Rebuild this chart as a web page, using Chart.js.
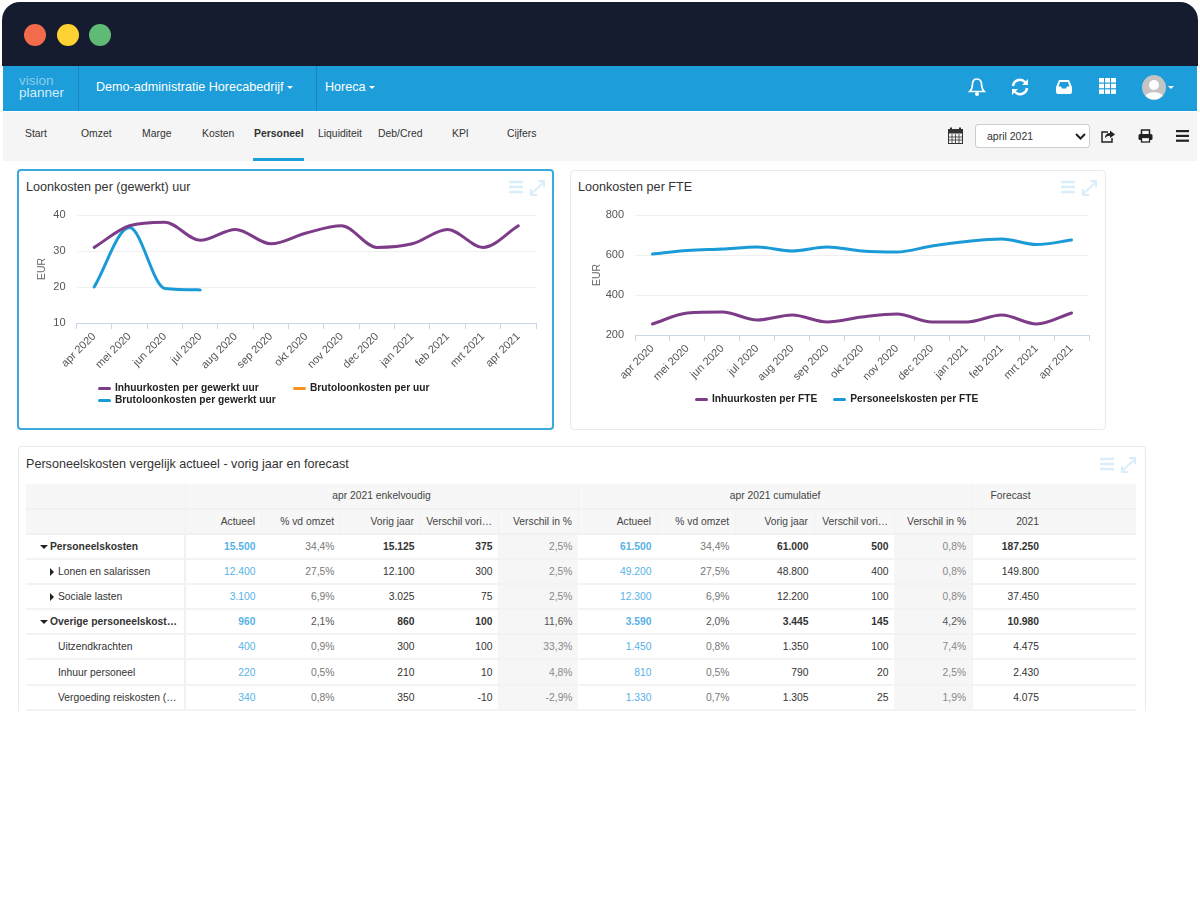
<!DOCTYPE html>
<html>
<head>
<meta charset="utf-8">
<title>Personeel</title>
<script src="https://cdn.jsdelivr.net/npm/chart.js@4"></script>
<style>
    * { box-sizing: border-box; }
    html, body { margin: 0; padding: 0; background: #fff; }
    body { width: 1200px; height: 900px; position: relative; overflow: hidden; font-family: "Liberation Sans", Arial, sans-serif; color: #333; }
    .abs { position: absolute; }
    #titlebar { left: 2px; top: 2px; width: 1196px; height: 64px; background: #161c2f; border-radius: 18px 18px 0 0; }
    .dot { position: absolute; width: 22px; height: 22px; top: 24px; border-radius: 50%; }
    #topbar { left: 3px; top: 66px; width: 1194px; height: 45px; background: #1d9dd9; }
    .divider { position: absolute; top: 66px; width: 1px; height: 45px; background: #1a85ba; }
    #subnav { left: 3px; top: 112px; width: 1194px; height: 49px; background: #f5f5f5; }
    .toptext { position: absolute; top: 79px; color: #fff; font-size: 12.6px; line-height: 16px; white-space: nowrap; }
    .caret { position: absolute; width: 0; height: 0; border-left: 3.5px solid transparent; border-right: 3.5px solid transparent; border-top: 3.5px solid #fff; }
    .nav { position: absolute; top: 127px; font-size: 10.4px; line-height: 13px; color: #333; white-space: nowrap; }
    .card { position: absolute; background: #fff; border: 1px solid #eaeaea; border-radius: 4px; }
    .cardtitle { position: absolute; font-size: 12.6px; line-height: 16px; color: #333; white-space: nowrap; }
    canvas { position: absolute; }
    .legend { position: absolute; font-size: 10.2px; font-weight: bold; color: #222; line-height: 12px; white-space: nowrap; }
    .legend .item { display: flex; align-items: center; }
    .legend .swatch { display: inline-block; width: 13px; height: 3px; border-radius: 2px; margin-right: 4px; }
    #select { left: 975px; top: 124px; width: 115px; height: 24px; background: #fff; border: 1px solid #ccc; border-radius: 3px; font-size: 10.5px; line-height: 22px; padding-left: 11px; color: #333; }
    table { position: absolute; left: 26px; top: 483.5px; width: 1110px; border-collapse: collapse; table-layout: fixed; font-size: 10.3px; }
    th { font-weight: normal; background: #f7f7f7; color: #444; height: 25px; padding: 0 5.5px; border-bottom: 2px solid #f1f1f1; border-left: 1px solid #f1f1f1; text-align: right; white-space: nowrap; overflow: hidden; }
    th:first-child { border-left: none; }
    th.center { text-align: center; }
    td { height: 25.2px; padding: 0 5.5px; text-align: right; border-bottom: 2px solid #f3f3f3; white-space: nowrap; overflow: hidden; color: #333; }
    td.label { text-align: left; border-right: 2px solid #f1f1f1; position: relative; }
    td.act { color: #58b2e8; }
    td.pct { color: #777; }
    td.diff { color: #888; background: #f6f6f6; }
    td.fc { padding-right: 97px; border-left: 1px solid #f3f3f3; }
    tr.bold td { font-weight: bold; }
    tr.bold td.pct, tr.bold td.diff { font-weight: normal; }
    tr.dark td.pct, tr.dark td.diff { color: #555; }
    .tri-down { position: absolute; left: 14px; top: 10px; border-left: 4px solid transparent; border-right: 4px solid transparent; border-top: 4.5px solid #222; }
    .tri-right { position: absolute; left: 23.5px; top: 8px; border-top: 4px solid transparent; border-bottom: 4px solid transparent; border-left: 4.5px solid #222; }
    svg { position: absolute; overflow: visible; }
</style>
</head>
<body>
<div class="abs" id="titlebar"></div>
<div class="dot" style="left:24px;background:#f26b4a"></div>
<div class="dot" style="left:57px;background:#ffd233"></div>
<div class="dot" style="left:89px;background:#5fba75"></div>

<div class="abs" id="topbar"></div>
<div class="divider" style="left:78px"></div>
<div class="divider" style="left:316px"></div>
<div class="abs" style="left:19px;top:75px;font-size:13.5px;line-height:12px;color:#8ccbec;font-weight:300">vision</div>
<div class="abs" style="left:19px;top:87px;font-size:13.5px;line-height:12px;color:#d5edf9">planner</div>
<div class="toptext" style="left:96px">Demo-administratie Horecabedrijf</div>
<div class="caret" style="left:287px;top:86px"></div>
<div class="toptext" style="left:325px">Horeca</div>
<div class="caret" style="left:369px;top:86px"></div>

<!-- top bar icons -->
<svg style="left:968px;top:77px" width="18" height="20" viewBox="0 0 18 20"><path d="M9 2c-3 0-4.500 2.400-4.500 5 0 4-1.200 6-2.800 7.500h14.600C14.700 13 13.500 11 13.500 7c0-2.600-1.500-5-4.500-5z" fill="none" stroke="#fff" stroke-width="1.700"/><circle cx="9" cy="17" r="2" fill="#fff"/></svg>
<svg style="left:1010px;top:77px" width="20" height="20" viewBox="0 0 20 20"><path d="M3 9a7 7 0 0 1 12-4l2 2M17 11a7 7 0 0 1-12 4l-2-2" fill="none" stroke="#fff" stroke-width="2.500"/><path d="M18 2v6h-6zM2 18v-6h6z" fill="#fff"/></svg>
<svg style="left:1056px;top:79px" width="16" height="15" viewBox="0 0 16 15"><path d="M3 1h10l3 7v5a2 2 0 0 1-2 2H2a2 2 0 0 1-2-2V8z" fill="#fff"/><path d="M4 3h8l1.500 4.500H11L10 9.500H6L5 7.500H2.500z" fill="#1d9dd9"/></svg>
<svg style="left:1099px;top:78px" width="17" height="16" viewBox="0 0 17 16" fill="#fff"><rect x="0" y="0" width="5" height="4.500"/><rect x="6" y="0" width="5" height="4.500"/><rect x="12" y="0" width="5" height="4.500"/><rect x="0" y="5.700" width="5" height="4.500"/><rect x="6" y="5.700" width="5" height="4.500"/><rect x="12" y="5.700" width="5" height="4.500"/><rect x="0" y="11.400" width="5" height="4.500"/><rect x="6" y="11.400" width="5" height="4.500"/><rect x="12" y="11.400" width="5" height="4.500"/></svg>
<svg style="left:1142px;top:75px" width="24" height="25" viewBox="0 0 24 25"><ellipse cx="12" cy="12.500" rx="12" ry="12.500" fill="#c4c4c4"/><circle cx="12" cy="10" r="5" fill="#fff"/><path d="M3.500 21c2-5 15-5 17 0a12 12 0 0 1-17 0z" fill="#fff"/></svg>
<div class="caret" style="left:1168px;top:86px;border-left-width:3px;border-right-width:3px;border-top-width:3px"></div>

<div class="abs" id="subnav"></div>
<div id="navbar"></div>
<div class="abs" style="left:253px;top:158px;width:51px;height:3px;background:#1d9dd9"></div>

<!-- toolbar icons -->
<svg style="left:948px;top:127px" width="15" height="17" viewBox="0 0 15 17"><rect x="0.500" y="2.500" width="14" height="14" fill="none" stroke="#333"/><rect x="0.500" y="2.500" width="14" height="4" fill="#333"/><path d="M3 0.500v3M12 0.500v3" stroke="#333" stroke-width="2"/><path d="M4 7v9M7.500 7v9M11 7v9M1 10h13M1 13h13" stroke="#333" stroke-width="0.800"/></svg>
<div class="abs" id="select">april 2021</div>
<svg style="left:1075px;top:133px" width="11" height="7" viewBox="0 0 11 7"><path d="M1 1l4.500 4.500L10 1" fill="none" stroke="#222" stroke-width="2"/></svg>
<svg style="left:1101px;top:129px" width="14" height="14" viewBox="0 0 14 14"><path d="M7 3H1v10h10V9" fill="none" stroke="#222" stroke-width="1.500"/><path d="M4 9c0-3 2-5 5-5V1.500L14 5.500 9 9V6.800C7 6.800 5.500 7.500 4 9z" fill="#222"/></svg>
<svg style="left:1138px;top:129px" width="15" height="14" viewBox="0 0 15 14"><path d="M3.500 5V1h8v4" fill="none" stroke="#222" stroke-width="1.500"/><rect x="0.500" y="5" width="14" height="6" rx="1.500" fill="#222"/><rect x="3.500" y="8.500" width="8" height="4.500" fill="#fff" stroke="#222" stroke-width="1.300"/></svg>
<svg style="left:1176px;top:130px" width="13" height="12" viewBox="0 0 13 12" fill="#222"><rect width="13" height="2.200"/><rect y="4.800" width="13" height="2.200"/><rect y="9.600" width="13" height="2.200"/></svg>

<!-- chart cards -->
<div class="card" style="left:17px;top:169px;width:537px;height:261px;border:2px solid #3aa9e0"></div>
<div class="card" style="left:570px;top:170px;width:536px;height:260px"></div>
<div class="cardtitle" style="left:26px;top:179px">Loonkosten per (gewerkt) uur</div>
<div class="cardtitle" style="left:578px;top:179px">Loonkosten per FTE</div>

<canvas id="chartUur" style="left:30px;top:175px;width:515px;height:210px"></canvas>
<canvas id="chartFte" style="left:585px;top:175px;width:512px;height:222px"></canvas>
<div class="legend" id="legendUur" style="left:98px;top:382px;display:grid;grid-template-columns:195px auto"></div>
<div class="legend" id="legendFte" style="left:695px;top:393px;display:flex;gap:16px"></div>

<!-- table card -->
<div class="abs" style="left:18px;top:446px;width:1128px;height:265px;border:1px solid #eaeaea;border-bottom:none;border-radius:4px 4px 0 0;background:#fff"></div>
<div class="cardtitle" style="left:26px;top:456px">Personeelskosten vergelijk actueel - vorig jaar en forecast</div>
<table id="table"></table>

<div id="cardIcons"></div>

<script>
// Chart data
const months = ['apr 2020', 'mei 2020', 'jun 2020', 'jul 2020', 'aug 2020', 'sep 2020', 'okt 2020', 'nov 2020', 'dec 2020', 'jan 2021', 'feb 2021', 'mrt 2021', 'apr 2021'];
const inhuurPerUur = [31, 37, 38, 33, 36, 32, 35, 37, 31, 32, 36, 31, 37];
const brutoPerGewerktUur = [20, 36.5, 19.6, 19.2, null, null, null, null, null, null, null, null, null];
const brutoPerUur = [];
const inhuurPerFte = [255, 310, 315, 275, 300, 265, 290, 305, 265, 265, 300, 255, 310];
const personeelPerFte = [605, 622, 630, 640, 620, 640, 620, 615, 645, 668, 680, 652, 675];
const uurTicks = [10, 20, 30, 40];
const fteTicks = [200, 400, 600, 800];

// Table data
const rowLabels = ['Personeelskosten', 'Lonen en salarissen', 'Sociale lasten', 'Overige personeelskost…', 'Uitzendkrachten', 'Inhuur personeel', 'Vergoeding reiskosten (…'];
const enkActueel = ['15.500', '12.400', '3.100', '960', '400', '220', '340'];
const enkOmzet = ['34,4%', '27,5%', '6,9%', '2,1%', '0,9%', '0,5%', '0,8%'];
const enkVorig = ['15.125', '12.100', '3.025', '860', '300', '210', '350'];
const enkVerschil = ['375', '300', '75', '100', '100', '10', '-10'];
const enkPct = ['2,5%', '2,5%', '2,5%', '11,6%', '33,3%', '4,8%', '-2,9%'];
const cumActueel = ['61.500', '49.200', '12.300', '3.590', '1.450', '810', '1.330'];
const cumOmzet = ['34,4%', '27,5%', '6,9%', '2,0%', '0,8%', '0,5%', '0,7%'];
const cumVorig = ['61.000', '48.800', '12.200', '3.445', '1.350', '790', '1.305'];
const cumVerschil = ['500', '400', '100', '145', '100', '20', '25'];
const cumPct = ['0,8%', '0,8%', '0,8%', '4,2%', '7,4%', '2,5%', '1,9%'];
const forecast2021 = ['187.250', '149.800', '37.450', '10.980', '4.475', '2.430', '4.075'];
const subHeaders = ['Actueel', '% vd omzet', 'Vorig jaar', 'Verschil vori…', 'Verschil in %'];

const navItems = [['Start', 25], ['Omzet', 81], ['Marge', 142], ['Kosten', 202], ['Personeel', 254], ['Liquiditeit', 318], ['Deb/Cred', 378], ['KPI', 452], ['Cijfers', 507]];

const PURPLE = '#7d3c87';
const BLUE = '#1a9bd8';
const ORANGE = '#f7931e';

function makeChart(id, datasets, ticks, width, height, plot) {
    const canvas = document.getElementById(id);
    canvas.width = width;
    canvas.height = height;
    return new Chart(canvas, {
        type: 'line',
        data: {
            labels: months,
            datasets: datasets.map(d => ({
                label: d.label,
                data: d.data,
                borderColor: d.color,
                backgroundColor: d.color,
                borderWidth: 3,
                pointRadius: 0,
                cubicInterpolationMode: 'monotone',
                borderCapStyle: 'round',
                spanGaps: false
            }))
        },
        options: {
            responsive: false,
            animation: false,
            devicePixelRatio: 1,
            layout: { padding: { left: 0, top: plot.top, right: plot.right, bottom: 0 } },
            plugins: { legend: { display: false }, tooltip: { enabled: false } },
            scales: {
                x: {
                    offset: true,
                    afterFit: scale => { scale.height = plot.xHeight; },
                    border: { color: '#ccd6eb' },
                    grid: { drawOnChartArea: false, drawTicks: true, tickLength: 6, color: '#ccd6eb', offset: true },
                    ticks: { color: '#555', font: { family: 'Liberation Sans', size: 11 }, minRotation: 45, maxRotation: 45, autoSkip: false, padding: 1 }
                },
                y: {
                    min: ticks[0],
                    max: ticks[ticks.length - 1],
                    afterFit: scale => { scale.width = plot.yWidth; },
                    afterBuildTicks: scale => { scale.ticks = ticks.map(v => ({ value: v })); },
                    border: { display: false },
                    grid: { color: '#f0f0f0', drawTicks: false, lineWidth: 1 },
                    ticks: { color: '#555', font: { family: 'Liberation Sans', size: 11 }, padding: 11 },
                    title: { display: true, text: 'EUR', color: '#666', font: { family: 'Liberation Sans', size: 10.5 }, padding: { top: 6, bottom: 0 } }
                }
            }
        }
    });
}

function renderLegend(id, chart) {
    const el = document.getElementById(id);
    chart.data.datasets.forEach(d => {
        const item = document.createElement('div');
        item.className = 'item';
        item.innerHTML = `<span class="swatch" style="background:${d.borderColor}"></span>${d.label}`;
        el.appendChild(item);
    });
}

function renderNav() {
    const nav = document.getElementById('navbar');
    navItems.forEach(([text, left]) => {
        const el = document.createElement('div');
        el.className = 'nav';
        el.style.left = left + 'px';
        el.textContent = text;
        if (text === 'Personeel') el.style.fontWeight = 'bold';
        nav.appendChild(el);
    });
}

function renderCardIcons() {
    const holder = document.getElementById('cardIcons');
    [[509, 180], [1061, 180], [1100, 457]].forEach(([x, y]) => {
        holder.insertAdjacentHTML('beforeend',
            `<svg style="left:${x}px;top:${y}px" width="36" height="16" viewBox="0 0 36 16">
                <path d="M0 2h14M0 7h14M0 12h14" stroke="#d9eefa" stroke-width="2.500"/>
                <path d="M22 14L35 2M22 9v6h6M29 1h6v6" fill="none" stroke="#d9eefa" stroke-width="2"/>
            </svg>`);
    });
}

function renderTable() {
    const table = document.getElementById('table');
    const widths = [159, 76, 79, 80, 78, 80, 79, 78, 79, 80, 78, 164];
    let html = '<colgroup>' + widths.map(w => `<col style="width:${w}px">`).join('') + '</colgroup>';
    html += '<tr><th></th><th class="center" colspan="5">apr 2021 enkelvoudig</th><th class="center" colspan="5">apr 2021 cumulatief</th><th style="text-align:left;padding-left:18px">Forecast</th></tr>';
    html += '<tr><th></th>' + subHeaders.concat(subHeaders).map(h => `<th>${h}</th>`).join('') + '<th style="padding-right:97px">2021</th></tr>';
    rowLabels.forEach((label, i) => {
        const isGroup = i === 0 || i === 3;
        const hasChild = i === 1 || i === 2;
        const cls = (isGroup ? 'bold' : '') + (i === 3 ? ' dark' : '');
        const marker = isGroup ? '<span class="tri-down"></span>' : hasChild ? '<span class="tri-right"></span>' : '';
        const pad = isGroup ? 24 : 32;
        html += `<tr class="${cls}"><td class="label" style="padding-left:${pad}px">${marker}${label}</td>`
            + `<td class="act">${enkActueel[i]}</td><td class="pct">${enkOmzet[i]}</td><td>${enkVorig[i]}</td><td>${enkVerschil[i]}</td><td class="diff">${enkPct[i]}</td>`
            + `<td class="act">${cumActueel[i]}</td><td class="pct">${cumOmzet[i]}</td><td>${cumVorig[i]}</td><td>${cumVerschil[i]}</td><td class="diff">${cumPct[i]}</td>`
            + `<td class="fc">${forecast2021[i]}</td></tr>`;
    });
    table.innerHTML = html;
}

function init() {
    const uurChart = makeChart('chartUur', [
        { label: 'Inhuurkosten per gewerkt uur', data: inhuurPerUur, color: PURPLE },
        { label: 'Brutoloonkosten per uur', data: brutoPerUur, color: ORANGE },
        { label: 'Brutoloonkosten per gewerkt uur', data: brutoPerGewerktUur, color: BLUE }
    ], uurTicks, 515, 210, { top: 40, right: 9, xHeight: 62, yWidth: 46.5 });

    const fteChart = makeChart('chartFte', [
        { label: 'Inhuurkosten per FTE', data: inhuurPerFte, color: PURPLE },
        { label: 'Personeelskosten per FTE', data: personeelPerFte, color: BLUE }
    ], fteTicks, 512, 222, { top: 40, right: 8, xHeight: 62, yWidth: 50 });

    renderLegend('legendUur', uurChart);
    renderLegend('legendFte', fteChart);
    renderNav();
    renderCardIcons();
    renderTable();
}

document.addEventListener('DOMContentLoaded', init);
</script>
</body>
</html>
